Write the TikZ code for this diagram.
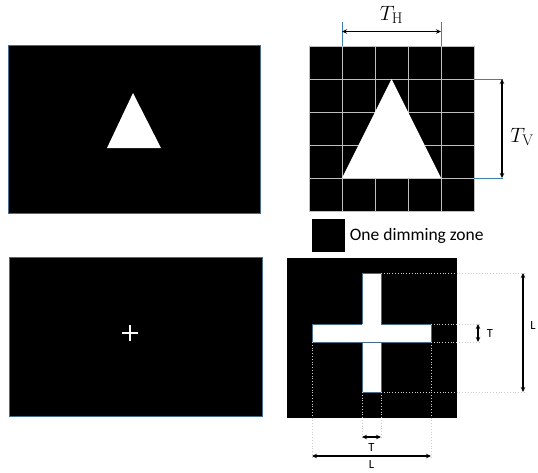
\documentclass[tikz,border=0pt]{standalone}
\usepackage{fontspec}
\setsansfont{Carlito}
\usetikzlibrary{arrows.meta, positioning}
\definecolor{edgeblue}{RGB}{70,110,140}
\definecolor{tickblue}{RGB}{60,130,170}
\definecolor{gridgray}{RGB}{190,190,190}
\definecolor{dimgray}{RGB}{205,205,205}

\begin{document}
\begin{tikzpicture}[x=1pt, y=-1pt,
  panel/.style={fill=black, draw=edgeblue, line width=0.6pt},
  gridline/.style={draw=gridgray, line width=0.8pt},
  tick/.style={draw=tickblue, line width=0.9pt},
  dimline/.style={draw=dimgray, dotted, line width=0.8pt},
  arr/.style={{Stealth[length=5pt,width=4.5pt]}-{Stealth[length=5pt,width=4.5pt]}, line width=1.3pt},
  lbl/.style={font=\sffamily\fontsize{12.5}{14}\selectfont, inner sep=1pt},
  mathlbl/.style={font=\fontsize{22}{26}\selectfont, inner sep=1pt}
]
  \useasboundingbox (0,0) rectangle (538,472);

  % input frames
  \path[panel] (8,45) rectangle (260,213);
  \fill[white] (133,93) -- (107,148) -- (161,148) -- cycle;
  \path[panel] (9,257) rectangle (262,416);
  \draw[white, line width=1.6pt] (122,333) -- (138,333) (130,325) -- (130,341);

  % dimming zones
  \path[fill=black, gridline] (309,46) rectangle (474,211);
  \foreach \i in {1,...,4} {
    \draw[gridline] (309+33*\i,46) -- (309+33*\i,211);
    \draw[gridline] (309,46+33*\i) -- (474,46+33*\i);
  }
  \fill[white] (391.5,79) -- (342,178) -- (441,178) -- cycle;

  % T_H
  \coordinate (thL) at (342,31.5);
  \coordinate (thR) at (441,31.5);
  \draw[tick] (342,22) -- (342,46) (441,22) -- (441,46);
  \draw[arr] (thL) -- (thR);
  \node[mathlbl] (th) at (391.5,15) {$T_\mathrm{H}$};

  % T_V
  \coordinate (tvT) at (502,79);
  \coordinate (tvB) at (502,178);
  \draw[tick] (474,79) -- (503,79) (474,178) -- (503,178);
  \draw[arr] (tvT) -- (tvB);
  \node[mathlbl] (tv) at (522,137) {$T_\mathrm{V}$};

  % legend
  \node[fill=black, minimum size=33pt, inner sep=0pt] (zone) at (328,235.5) {};
  \node[font=\sffamily\fontsize{17.5}{20}\selectfont, inner sep=0pt, right=5pt of zone] (zonetxt) {One dimming zone};

  % cross with dimensions
  \path[fill=black] (287,258) rectangle (457,418);
  \path[fill=white, draw=edgeblue, line width=0.5pt] (362,273) rectangle (381,392);
  \path[fill=white, draw=edgeblue, line width=0.5pt] (312,324) rectangle (431,342);
  \fill[white] (362.3,324.3) rectangle (380.7,341.7);

  \draw[dimline] (381,273) -- (525,273) (381,392) -- (525,392);
  \draw[dimline] (431,324) -- (480,324) (431,342) -- (480,342);
  \draw[dimline] (312,342) -- (312,457) (431,342) -- (431,457);
  \draw[dimline] (362,392) -- (362,438) (381,392) -- (381,438);

  \coordinate (lvT) at (523,273);
  \coordinate (lvB) at (523,392);
  \draw[arr] (lvT) -- (lvB);
  \node[lbl] (lv) at (533,325) {L};

  \coordinate (tvsT) at (478,324);
  \coordinate (tvsB) at (478,342);
  \draw[arr] (tvsT) -- (tvsB);
  \node[lbl] (tvs) at (490,333) {T};

  \coordinate (thsL) at (362,437);
  \coordinate (thsR) at (381,437);
  \draw[arr] (thsL) -- (thsR);
  \node[lbl] (ths) at (371.5,447) {T};

  \coordinate (lhL) at (312,456);
  \coordinate (lhR) at (431,456);
  \draw[arr] (lhL) -- (lhR);
  \node[lbl] (lh) at (371.5,464.5) {L};
\end{tikzpicture}
\end{document}
